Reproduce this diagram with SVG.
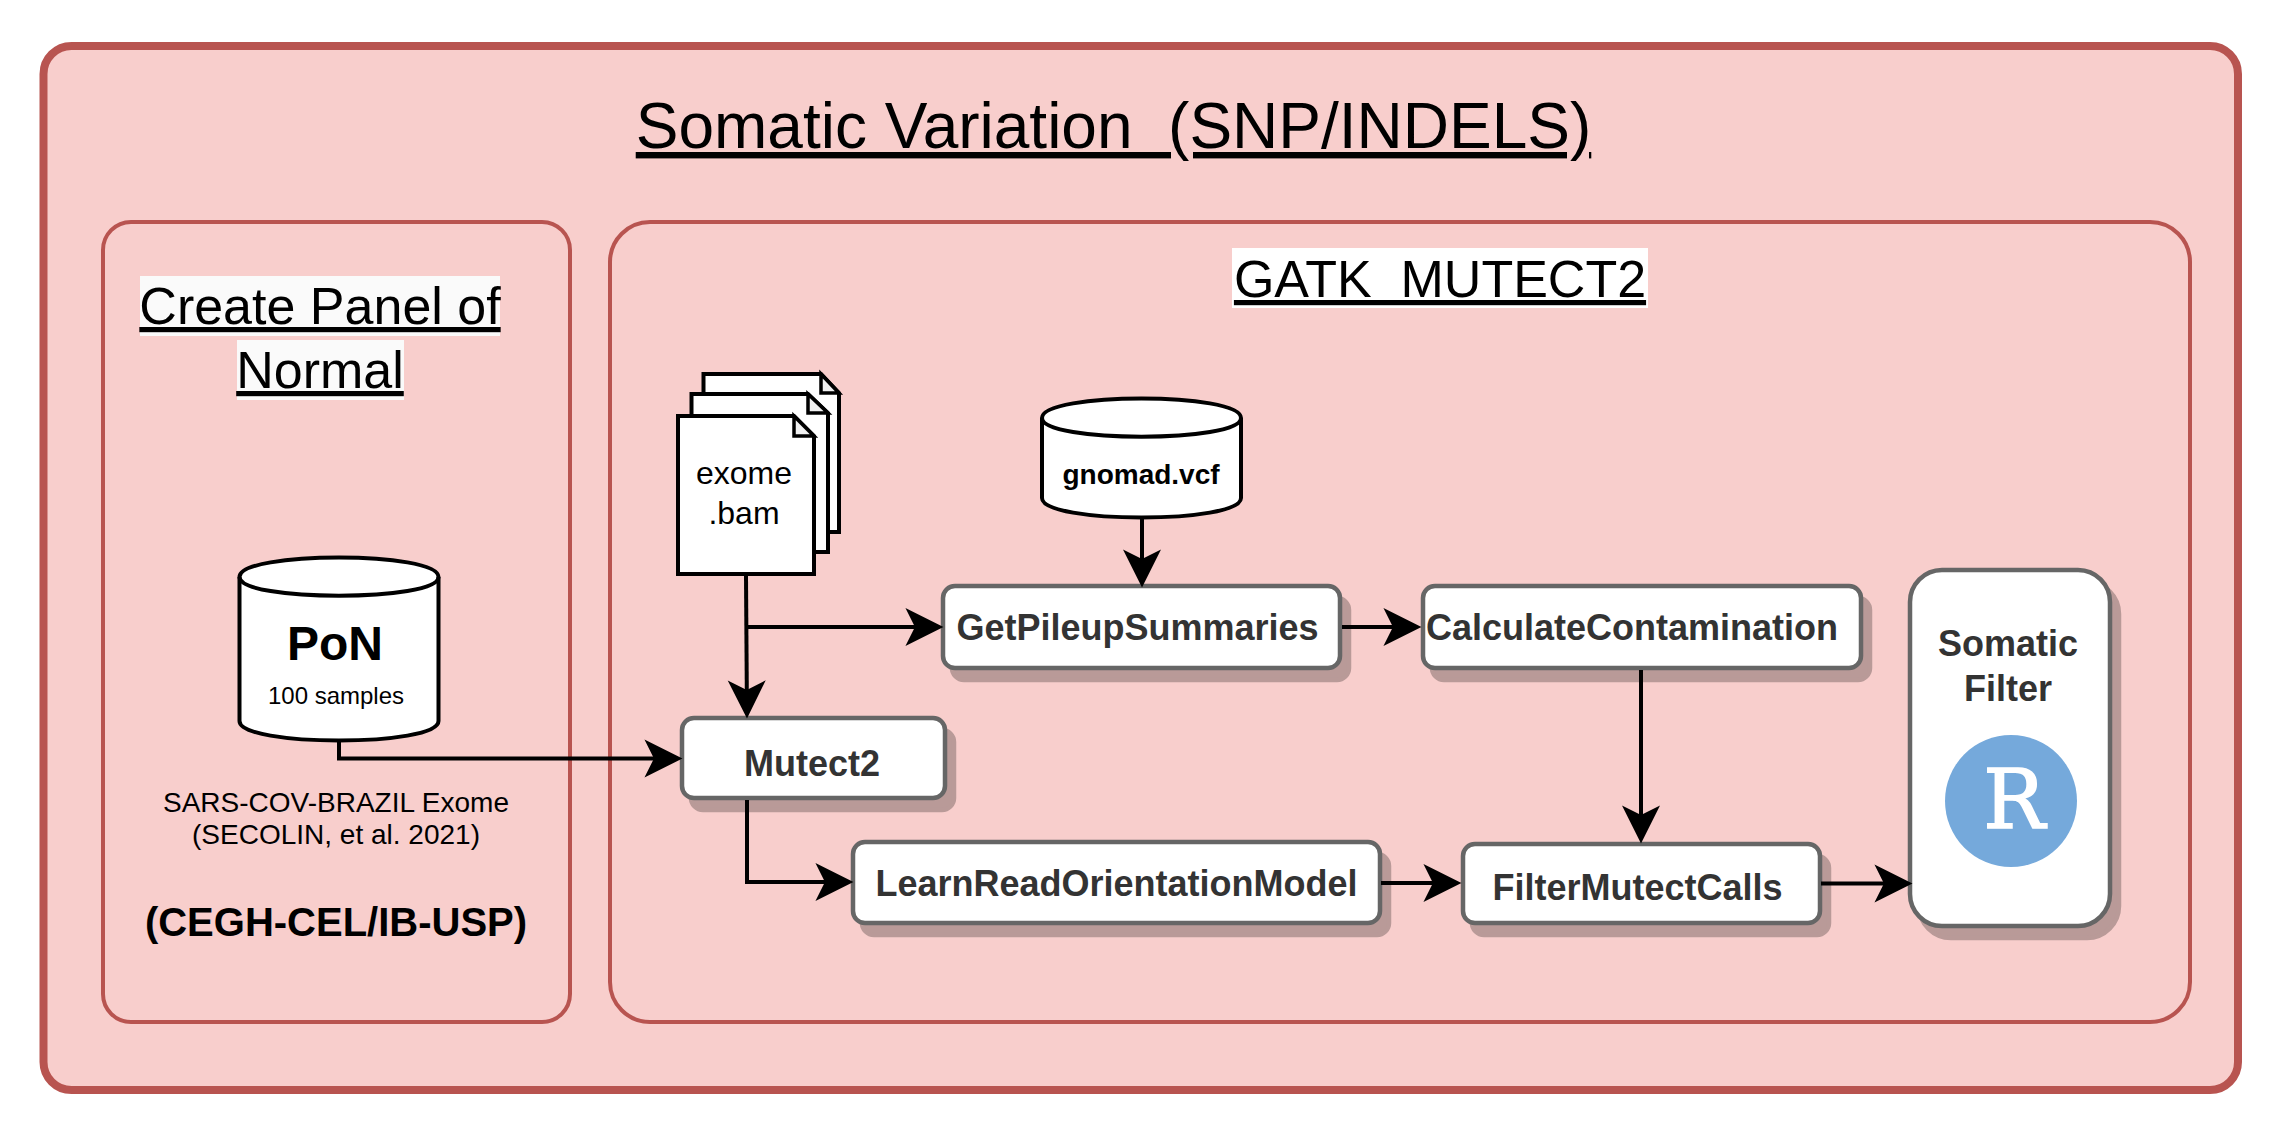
<svg xmlns="http://www.w3.org/2000/svg" width="2284" height="1132" viewBox="0 0 2284 1132">
<style>
text{font-family:"Liberation Sans",Arial,sans-serif;text-anchor:middle;fill:#000}
.panel{fill:#f8cecc;stroke:#b85450;stroke-width:4}
.u{text-decoration:underline}
.box{fill:#fff;stroke:#666;stroke-width:4.5}
.sh{fill:#b99a98;stroke:#b99a98;stroke-width:4.5}
.lbl{font-size:36px;font-weight:700;fill:#333}
.db{fill:#fff;stroke:#000;stroke-width:4}
.doc{fill:#fff;stroke:#000;stroke-width:4}
.fold{fill:#f1f1f1;stroke:#000;stroke-width:3.5}
.cn{fill:none;stroke:#000;stroke-width:4;marker-end:url(#arr)}
</style>
<defs>
<marker id="arr" markerUnits="userSpaceOnUse" markerWidth="38" markerHeight="38" viewBox="0 0 36 36" refX="10" refY="18" orient="auto" overflow="visible">
<path d="M36 18L0 0L9 18L0 36Z" fill="#000"/>
</marker>
</defs>
<rect width="2284" height="1132" fill="#fff"/>
<g id="outer">
<rect x="43.500" y="46" width="2194.500" height="1044" rx="28" ry="28" class="panel" style="stroke-width:8"/>
<text x="1113.500" y="148" font-size="64" class="u">Somatic Variation&#160; (SNP/INDELS)</text>
</g>
<g id="panel-pon">
<rect x="103" y="222" width="467" height="800" rx="28" ry="28" class="panel"/>
<rect x="140" y="276" width="360" height="60" fill="#fafafa"/>
<rect x="237" y="340" width="167" height="60" fill="#fafafa"/>
<text x="320" y="324" font-size="52" class="u">Create Panel of</text>
<text x="320" y="388" font-size="52" class="u">Normal</text>
</g>
<g id="panel-gatk">
<rect x="610" y="222" width="1580" height="800" rx="40" ry="40" class="panel"/>
<rect x="1232" y="248" width="416" height="60" fill="#fff"/>
<text x="1440" y="297" font-size="52" class="u">GATK&#160; MUTECT2</text>
</g>
<g id="pon">
<path class="db" d="M239.500 577C239.500 551 438.500 551 438.500 577V721C438.500 747 239.500 747 239.500 721Z"/>
<path class="db" style="fill:none" d="M239.500 577C239.500 602 438.500 602 438.500 577"/>
<text x="335" y="660" font-size="48" font-weight="700">PoN</text>
<text x="336" y="704" font-size="24">100 samples</text>
</g>
<g id="pon-caption">
<text x="336" y="812" font-size="28">SARS-COV-BRAZIL Exome</text>
<text x="336" y="844" font-size="28">(SECOLIN, et al. 2021)</text>
<text x="336" y="936" font-size="40" font-weight="700">(CEGH-CEL/IB-USP)</text>
</g>
<g id="exome-bam">
<path class="doc" d="M703.500 374H821L839 393V532H703.500Z"/>
<path class="fold" d="M821 374V393H839Z"/>
<path class="doc" d="M691.500 394H808L828 413V552H691.500Z"/>
<path class="fold" d="M808 394V413H828Z"/>
<path class="doc" d="M678 416H794L814 436V574H678Z"/>
<path class="fold" d="M794 416V436H814Z"/>
<text x="744" y="484" font-size="32">exome</text>
<text x="744" y="524" font-size="32">.bam</text>
</g>
<g id="gnomad">
<path class="db" d="M1042 418C1042 392 1241 392 1241 418V498C1241 524 1042 524 1042 498Z"/>
<path class="db" style="fill:none" d="M1042 418C1042 443 1241 443 1241 418"/>
<text x="1141" y="484" font-size="28" font-weight="700">gnomad.vcf</text>
</g>
<g id="getpileup">
<rect class="sh" x="952" y="598" width="397" height="82" rx="12"/>
<rect class="box" x="943" y="586" width="397" height="82" rx="12"/>
<text class="lbl" x="1137.500" y="640">GetPileupSummaries</text>
</g>
<g id="calculate">
<rect class="sh" x="1432" y="598" width="438" height="82" rx="12"/>
<rect class="box" x="1423" y="586" width="438" height="82" rx="12"/>
<text class="lbl" x="1632" y="640">CalculateContamination</text>
</g>
<g id="mutect2">
<rect class="sh" x="691" y="730" width="263" height="80" rx="12"/>
<rect class="box" x="682" y="718" width="263" height="80" rx="12"/>
<text class="lbl" x="812" y="776">Mutect2</text>
</g>
<g id="learn">
<rect class="sh" x="862" y="854" width="527" height="81" rx="12"/>
<rect class="box" x="853" y="842" width="527" height="81" rx="12"/>
<text class="lbl" x="1116.500" y="896">LearnReadOrientationModel</text>
</g>
<g id="filter">
<rect class="sh" x="1472" y="856" width="357" height="79" rx="12"/>
<rect class="box" x="1463" y="844" width="357" height="79" rx="12"/>
<text class="lbl" x="1637.500" y="900">FilterMutectCalls</text>
</g>
<g id="somatic">
<rect class="sh" x="1919" y="582" width="200" height="356" rx="32"/>
<rect class="box" x="1910" y="570" width="200" height="356" rx="32"/>
<text class="lbl" x="2008" y="656">Somatic</text>
<text class="lbl" x="2008" y="701">Filter</text>
<circle cx="2011" cy="801" r="66" fill="#75a9db"/>
<text x="2014" y="828" font-size="82" stroke="#fff" stroke-width="1.500" style="font-family:'DejaVu Serif',serif;fill:#fff">R</text>
</g>
<g id="connectors">
<path class="cn" d="M746 576L746.800 691"/>
<path class="cn" d="M746 627H916"/>
<path class="cn" d="M339 742V758.500H655"/>
<path class="cn" d="M747 800V882H826"/>
<path class="cn" d="M1142 519V560"/>
<path class="cn" d="M1342 627H1394"/>
<path class="cn" d="M1641 670V816"/>
<path class="cn" d="M1381 883H1434"/>
<path class="cn" d="M1821 883.500H1885"/>
</g>
</svg>
